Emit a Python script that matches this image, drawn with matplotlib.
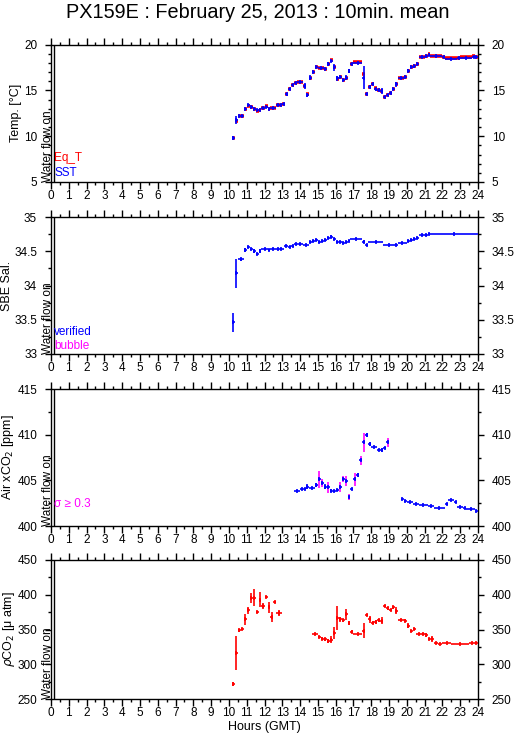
import matplotlib
matplotlib.use("Agg")
import matplotlib.pyplot as plt
from matplotlib.ticker import MultipleLocator, FormatStrFormatter

plt.rcParams["font.family"] = ["Liberation Sans", "DejaVu Sans"]

title = "PX159E : February 25, 2013 : 10min. mean"
flow_on = 0.18   # water flow switched on (hours GMT)

# 10-min means: (start h, end h, value, std)
sst_rows = [
    (10.17, 10.33, 9.78, 0.25), (10.33, 10.50, 11.75, 0.45), (10.50, 10.67, 12.20, 0.05),
    (10.67, 10.83, 12.25, 0.10), (10.83, 11.00, 13.00, 0.12), (11.00, 11.17, 13.35, 0.05),
    (11.17, 11.33, 13.20, 0.05), (11.33, 11.50, 12.95, 0.08), (11.50, 11.67, 12.80, 0.05),
    (11.67, 11.83, 12.90, 0.05), (11.83, 12.00, 13.10, 0.05), (12.00, 12.17, 13.20, 0.05),
    (12.17, 12.33, 13.00, 0.05), (12.33, 12.67, 13.10, 0.03), (12.67, 12.83, 13.35, 0.05),
    (12.83, 13.00, 13.45, 0.05), (13.00, 13.17, 13.50, 0.08), (13.17, 13.33, 14.55, 0.20),
    (13.33, 13.50, 15.15, 0.08), (13.50, 13.67, 15.60, 0.05), (13.67, 13.83, 15.80, 0.03),
    (13.83, 14.17, 15.95, 0.05), (14.17, 14.33, 15.50, 0.30), (14.33, 14.50, 14.50, 0.20),
    (14.50, 14.67, 16.40, 0.25), (14.67, 14.83, 17.00, 0.08), (14.83, 15.00, 17.50, 0.05),
    (15.00, 15.33, 17.45, 0.03), (15.33, 15.50, 17.30, 0.08), (15.50, 15.67, 17.90, 0.20),
    (15.67, 15.83, 18.25, 0.05), (15.83, 16.00, 17.50, 0.35), (16.00, 16.17, 16.30, 0.30),
    (16.17, 16.33, 16.50, 0.05), (16.33, 16.50, 16.15, 0.10), (16.50, 16.67, 16.40, 0.25),
    (16.67, 16.83, 17.10, 0.20), (16.83, 17.00, 17.85, 0.05), (17.00, 17.50, 18.00, 0.03),
    (17.50, 17.67, 16.40, 1.30), (17.67, 17.83, 14.55, 0.10), (17.83, 18.00, 15.40, 0.15),
    (18.00, 18.17, 15.65, 0.05), (18.17, 18.33, 15.10, 0.20), (18.33, 18.50, 15.05, 0.10),
    (18.50, 18.67, 14.90, 0.30), (18.67, 18.83, 14.30, 0.05), (18.83, 19.00, 14.50, 0.10),
    (19.00, 19.17, 14.75, 0.05), (19.17, 19.33, 15.15, 0.10), (19.33, 19.50, 15.65, 0.30),
    (19.50, 19.83, 16.30, 0.03), (19.83, 20.00, 16.45, 0.10), (20.00, 20.17, 17.15, 0.20),
    (20.17, 20.33, 17.55, 0.10), (20.33, 20.50, 17.60, 0.15), (20.50, 20.67, 17.90, 0.10),
    (20.67, 21.00, 18.65, 0.03), (21.00, 21.17, 18.75, 0.05), (21.17, 21.33, 18.90, 0.05),
    (21.33, 22.00, 18.70, 0.03), (22.00, 22.17, 18.65, 0.03), (22.17, 22.83, 18.45, 0.03),
    (22.83, 23.00, 18.50, 0.03), (23.00, 23.67, 18.55, 0.03), (23.67, 23.83, 18.65, 0.03),
    (23.83, 24.00, 18.60, 0.03),
]
# equilibrator temperature, same 10-min bins as sst_rows
eqt_v = [
    9.78, 11.60, 12.20, 12.25, 13.00, 13.30, 13.15, 12.95, 12.75, 12.90, 13.10, 13.25,
    13.00, 13.10, 13.40, 13.45, 13.50, 14.55, 15.15, 15.60, 15.80, 15.95, 15.50, 14.55,
    16.40, 17.00, 17.50, 17.45, 17.30, 17.90, 18.30, 17.50, 16.25, 16.50, 16.15, 16.40,
    17.10, 17.85, 18.10, 16.80, 14.65, 15.40, 15.70, 15.25, 15.05, 14.95, 14.25, 14.45,
    14.70, 15.15, 15.65, 16.30, 16.45, 17.10, 17.55, 17.60, 17.90, 18.65, 18.75, 18.95,
    18.75, 18.65, 18.50, 18.50, 18.60, 18.70, 18.60,
]

sal_rows = [
    (10.17, 10.33, 33.46, 0.145), (10.33, 10.50, 34.18, 0.21), (10.50, 10.83, 34.38, 0.02),
    (10.83, 11.00, 34.52, 0.03), (11.00, 11.17, 34.555, 0.01), (11.17, 11.33, 34.53, 0.01),
    (11.33, 11.50, 34.50, 0.03), (11.50, 11.67, 34.46, 0.02), (11.67, 11.83, 34.50, 0.03),
    (11.83, 12.17, 34.53, 0.01), (12.17, 12.33, 34.52, 0.01), (12.33, 12.67, 34.54, 0.01),
    (12.67, 12.83, 34.53, 0.01), (12.83, 13.08, 34.54, 0.01), (13.08, 13.33, 34.58, 0.01),
    (13.33, 13.50, 34.565, 0.01), (13.50, 13.67, 34.57, 0.01), (13.67, 13.83, 34.60, 0.01),
    (13.83, 14.17, 34.605, 0.01), (14.17, 14.50, 34.59, 0.01), (14.50, 14.67, 34.63, 0.015),
    (14.67, 14.83, 34.65, 0.01), (14.83, 15.00, 34.67, 0.01), (15.00, 15.17, 34.635, 0.01),
    (15.17, 15.33, 34.645, 0.01), (15.33, 15.50, 34.665, 0.01), (15.50, 15.67, 34.695, 0.02),
    (15.67, 15.83, 34.715, 0.015), (15.83, 16.00, 34.675, 0.015), (16.00, 16.17, 34.63, 0.015),
    (16.17, 16.33, 34.64, 0.01), (16.33, 16.50, 34.625, 0.01), (16.50, 16.67, 34.63, 0.01),
    (16.67, 16.83, 34.655, 0.01), (16.83, 17.50, 34.685, 0.005), (17.50, 17.67, 34.64, 0.02),
    (17.67, 17.83, 34.585, 0.005), (17.83, 18.67, 34.635, 0.01), (18.67, 19.33, 34.585, 0.005),
    (19.33, 19.50, 34.595, 0.01), (19.50, 20.00, 34.625, 0.005), (20.00, 20.17, 34.65, 0.01),
    (20.17, 20.33, 34.665, 0.01), (20.33, 20.50, 34.68, 0.01), (20.50, 20.67, 34.70, 0.01),
    (20.67, 21.00, 34.73, 0.01), (21.00, 21.17, 34.735, 0.01), (21.17, 21.33, 34.755, 0.01),
    (21.33, 24.00, 34.75, 0.005),
]

air_rows = [
    (13.67, 14.00, 403.87, 0.05), (14.00, 14.17, 404.00, 0.10), (14.17, 14.33, 404.10, 0.10),
    (14.33, 14.50, 404.30, 0.25), (14.50, 14.83, 404.20, 0.10), (14.83, 15.00, 404.50, 0.20),
    (15.00, 15.17, 405.10, 0.95), (15.17, 15.33, 404.70, 0.40), (15.33, 15.50, 404.30, 0.25),
    (15.50, 15.67, 404.25, 0.60), (15.67, 15.83, 403.87, 0.20), (15.83, 16.00, 403.80, 0.10),
    (16.00, 16.17, 403.95, 0.10), (16.17, 16.33, 404.30, 0.55), (16.33, 16.50, 405.15, 0.36),
    (16.50, 16.67, 404.90, 0.55), (16.67, 16.83, 403.20, 0.33), (16.83, 17.00, 404.00, 0.05),
    (17.00, 17.17, 405.10, 0.70), (17.17, 17.33, 405.60, 0.20), (17.33, 17.50, 407.20, 0.50),
    (17.50, 17.67, 409.15, 1.00), (17.67, 17.83, 409.97, 0.20), (17.83, 18.00, 408.95, 0.20),
    (18.00, 18.33, 408.60, 0.05), (18.33, 18.50, 408.35, 0.05), (18.50, 18.67, 408.30, 0.20),
    (18.67, 18.83, 408.55, 0.05), (18.83, 19.00, 409.15, 0.45),
    (19.67, 19.83, 402.95, 0.05), (19.83, 20.00, 402.75, 0.05), (20.00, 20.33, 402.60, 0.05),
    (20.33, 20.67, 402.45, 0.05), (20.67, 21.17, 402.30, 0.03), (21.17, 21.50, 402.16, 0.03),
    (21.50, 22.17, 401.98, 0.03), (22.17, 22.33, 402.40, 0.10), (22.33, 22.67, 402.84, 0.05),
    (22.67, 22.83, 402.65, 0.10), (22.83, 23.17, 402.12, 0.05), (23.17, 23.33, 401.95, 0.03),
    (23.33, 23.83, 401.82, 0.03), (23.83, 24.00, 401.65, 0.03),
]

pco2_rows = [
    (10.17, 10.33, 271.0, 3), (10.33, 10.50, 316.0, 24), (10.50, 10.67, 349.0, 2),
    (10.67, 10.83, 351.0, 1), (10.83, 11.00, 365.0, 8), (11.00, 11.17, 378.0, 5),
    (11.17, 11.33, 395.0, 7), (11.33, 11.50, 396.0, 12), (11.50, 11.67, 375.0, 1),
    (11.67, 11.83, 393.0, 11), (11.83, 12.00, 384.0, 4), (12.00, 12.17, 396.5, 1),
    (12.17, 12.33, 382.0, 8), (12.33, 12.50, 368.5, 7), (12.50, 12.67, 389.5, 1),
    (12.67, 13.00, 374.0, 4),
    (14.67, 15.00, 343.5, 1.5), (15.00, 15.17, 339.5, 1), (15.17, 15.33, 337.0, 2),
    (15.33, 15.50, 336.0, 2), (15.50, 15.67, 333.5, 3), (15.67, 15.83, 335.0, 5),
    (15.83, 16.00, 345.0, 8), (16.00, 16.17, 367.0, 17), (16.17, 16.33, 364.5, 3),
    (16.33, 16.50, 363.0, 2), (16.50, 16.67, 372.0, 8), (16.67, 16.83, 359.0, 3),
    (16.83, 17.00, 347.0, 2), (17.00, 17.50, 343.0, 0.5), (17.50, 17.67, 348.5, 11),
    (17.67, 17.83, 371.0, 1), (17.83, 18.00, 364.5, 5), (18.00, 18.17, 360.0, 2),
    (18.17, 18.33, 361.0, 3), (18.33, 18.50, 363.0, 2), (18.50, 18.67, 362.5, 5),
    (18.67, 18.83, 384.0, 1.5), (18.83, 19.00, 380.5, 2), (19.00, 19.17, 378.0, 1.5),
    (19.17, 19.33, 382.0, 2), (19.33, 19.50, 377.0, 5), (19.50, 19.83, 363.5, 1),
    (19.83, 20.00, 362.5, 2), (20.00, 20.17, 355.5, 4), (20.17, 20.33, 348.0, 1),
    (20.33, 20.50, 351.0, 1.5), (20.50, 20.83, 343.5, 2), (20.83, 21.00, 343.5, 1),
    (21.00, 21.17, 341.5, 3), (21.17, 21.33, 336.0, 1.5), (21.33, 21.50, 336.0, 4),
    (21.50, 21.75, 330.0, 0.5), (21.75, 22.00, 329.0, 0.5), (22.00, 22.50, 330.5, 0.5),
    (22.50, 23.50, 329.0, 0.3), (23.50, 23.83, 330.5, 0.5), (23.83, 24.00, 331.0, 1),
]

BLUE = "#0000ff"
RED = "#ff0000"
MAG = "#ff00ff"


def draw(ax, rows, color, bar_color=None, limit=None, lw=1.2):
    t0 = [r[0] for r in rows]
    t1 = [r[1] for r in rows]
    v = [r[2] for r in rows]
    e = [r[3] for r in rows]
    tc = [(a + b) / 2 for a, b in zip(t0, t1)]
    bc = [bar_color if (limit is not None and s >= limit) else color for s in e]
    ax.vlines(tc, [a - s for a, s in zip(v, e)], [a + s for a, s in zip(v, e)],
              colors=bc, lw=lw, zorder=3)
    ax.hlines(v, t0, t1, colors=color, lw=lw, zorder=4)
    ax.plot(tc, v, "|", color=color, ms=2.5, mew=lw, zorder=4)


fig = plt.figure(figsize=(5.15, 7.39), dpi=100)
W, H = 515, 739
boxes = [(44.5, 182), (217, 354), (389, 526), (560, 699)]
axes = []
for top, bot in boxes:
    ax = fig.add_axes([51 / W, 1 - bot / H, 427 / W, (bot - top) / H])
    axes.append(ax)

ylims = [(5, 20), (33, 35), (400, 415), (250, 450)]
majors = [5, 0.5, 5, 50]
minors = [1, 0.25, 2.5, 25]
ylabels = ["Temp. [°C]", "SBE Sal.", "Air xCO$_2$ [ppm]", r"$\rho$CO$_2$ [μ atm]"]
label_x = [22, 13, 16, 17]   # pixel x of the y label's right edge

for ax, yl, mj, mn, lab, lx in zip(axes, ylims, majors, minors, ylabels, label_x):
    ax.set_xlim(0, 24)
    ax.set_ylim(*yl)
    ax.xaxis.set_major_locator(MultipleLocator(1))
    ax.xaxis.set_minor_locator(MultipleLocator(0.5))
    ax.yaxis.set_major_locator(MultipleLocator(mj))
    ax.yaxis.set_minor_locator(MultipleLocator(mn))
    ax.yaxis.set_major_formatter(FormatStrFormatter("%g"))
    ax.tick_params(which="both", direction="out", top=True, right=True,
                   labelright=True, labelsize=8.5, width=1)
    ax.tick_params(axis="x", which="major", length=5, pad=1)
    ax.tick_params(axis="x", which="minor", length=2.5)
    ax.tick_params(axis="y", which="major", length=4, pad=6)
    ax.tick_params(axis="y", which="minor", length=2)
    for s in ax.spines.values():
        s.set_linewidth(1)
    ax.set_ylabel(lab, fontsize=9)
    ax.yaxis.set_label_coords((lx - 51) / 427, 0.5)
    ax.axvline(flow_on, color="black", lw=1)
    ax.text(flow_on, 0.0, "Water flow on", rotation=90, ha="right", va="bottom",
            fontsize=8.5, transform=ax.get_xaxis_transform())

# temperature
axes[0].hlines(eqt_v, [r[0] for r in sst_rows], [r[1] for r in sst_rows],
               colors=RED, lw=2.6, zorder=3)
draw(axes[0], sst_rows, BLUE)
axes[0].text(0.008, 0.175, "Eq_T", color=RED, fontsize=8.5, va="center",
             transform=axes[0].transAxes)
axes[0].text(0.008, 0.065, "SST", color=BLUE, fontsize=8.5, va="center",
             transform=axes[0].transAxes)

# salinity
draw(axes[1], sal_rows, BLUE)
axes[1].text(0.008, 0.163, "verified", color=BLUE, fontsize=8.5, va="center",
             transform=axes[1].transAxes)
axes[1].text(0.008, 0.06, "bubble", color=MAG, fontsize=8.5, va="center",
             transform=axes[1].transAxes)

# air xCO2
draw(axes[2], air_rows, BLUE, bar_color=MAG, limit=0.3)
axes[2].text(0.008, 0.158, "σ ≥ 0.3", color=MAG, fontsize=8.5, va="center",
             transform=axes[2].transAxes)

# pCO2
draw(axes[3], pco2_rows, RED)
axes[3].set_xlabel("Hours (GMT)", fontsize=9, labelpad=1)

fig.text(0.5, 1 - 12 / H, title, ha="center", va="center", fontsize=14.3)

fig.savefig("out.png", dpi=100)
